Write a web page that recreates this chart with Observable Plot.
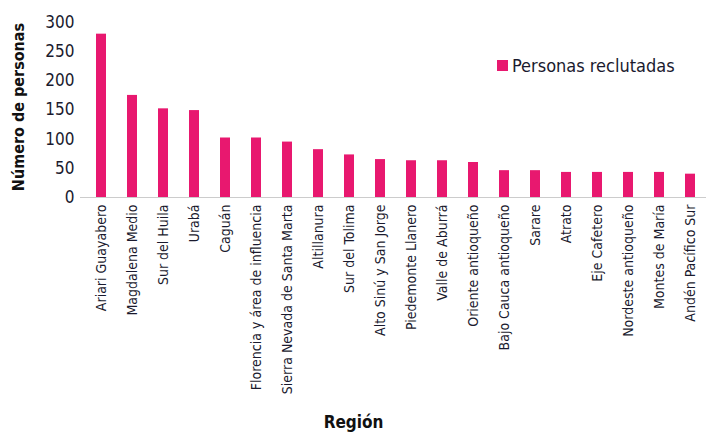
<!DOCTYPE html>
<html>
<head>
<meta charset="utf-8">
<script src="https://cdn.jsdelivr.net/npm/d3@7"></script>
<script src="https://cdn.jsdelivr.net/npm/@observablehq/plot@0.6"></script>
<style>
  body { margin: 0; background: #fff; }
  #wrap { position: relative; width: 706px; height: 432px; font-family: "Liberation Sans Narrow", "DejaVu Sans Condensed", "Liberation Sans", sans-serif; }
  #legend { position: absolute; left: 497px; top: 55px; display: flex; align-items: center; font-size: 18px; color: #1a1a2e; }
  #legend span.sw { display: inline-block; width: 11px; height: 11px; background: #e8186f; margin-right: 4px; }
</style>
</head>
<body>
<div id="wrap"><div id="legend"><span class="sw"></span>Personas reclutadas</div></div>
<script>
const regiones = ["Ariari Guayabero","Magdalena Medio","Sur del Huila","Urabá","Caguán","Florencia y área de influencia","Sierra Nevada de Santa Marta","Altillanura","Sur del Tolima","Alto Sinú y San Jorge","Piedemonte Llanero","Valle de Aburrá","Oriente antioqueño","Bajo Cauca antioqueño","Sarare","Atrato","Eje Cafetero","Nordeste antioqueño","Montes de María","Andén Pacífico Sur"];
const personas = [280,175,152,149,102,102,95,82,73,65,63,63,60,46,46,43,43,43,43,40];
const yTicks = [0,50,100,150,200,250,300];
const serie = "Personas reclutadas";

const data = regiones.map((r, i) => ({region: r, valor: personas[i]}));
const font = '"Liberation Sans Narrow", "DejaVu Sans Condensed", "Liberation Sans", sans-serif';

const chart = Plot.plot({
  width: 706,
  height: 432,
  marginLeft: 80,
  marginRight: -4,
  marginTop: 22,
  marginBottom: 235,
  style: {fontFamily: font, fontSize: "14px", color: "#1a1a2e", background: "#fff", overflow: "hidden"},
  x: {domain: regiones, paddingInner: 0.68, paddingOuter: 0.34, label: null},
  y: {domain: [0, 300], label: null},
  marks: [
    Plot.ruleY([0], {stroke: "#cccccc", strokeWidth: 1}),
    Plot.barY(data, {x: "region", y: "valor", fill: "#e8186f"}),
    Plot.axisY({ticks: yTicks, tickSize: 0, tickPadding: 6, fontSize: 17, label: null}),
    Plot.axisX({tickSize: 0, tickRotate: -90, tickPadding: 7, fontSize: 14, label: null}),
    Plot.text(["Número de personas"], {frameAnchor: "left", textAnchor: "middle", dx: -62, dy: -3, rotate: -90, fontWeight: "bold", fontSize: 16, fill: "#111"}),
    Plot.text(["Región"], {frameAnchor: "bottom", dy: 230, dx: -42, fontWeight: "bold", fontSize: 17, fill: "#111"})
  ]
});
document.getElementById("wrap").prepend(chart);
</script>
</body>
</html>
